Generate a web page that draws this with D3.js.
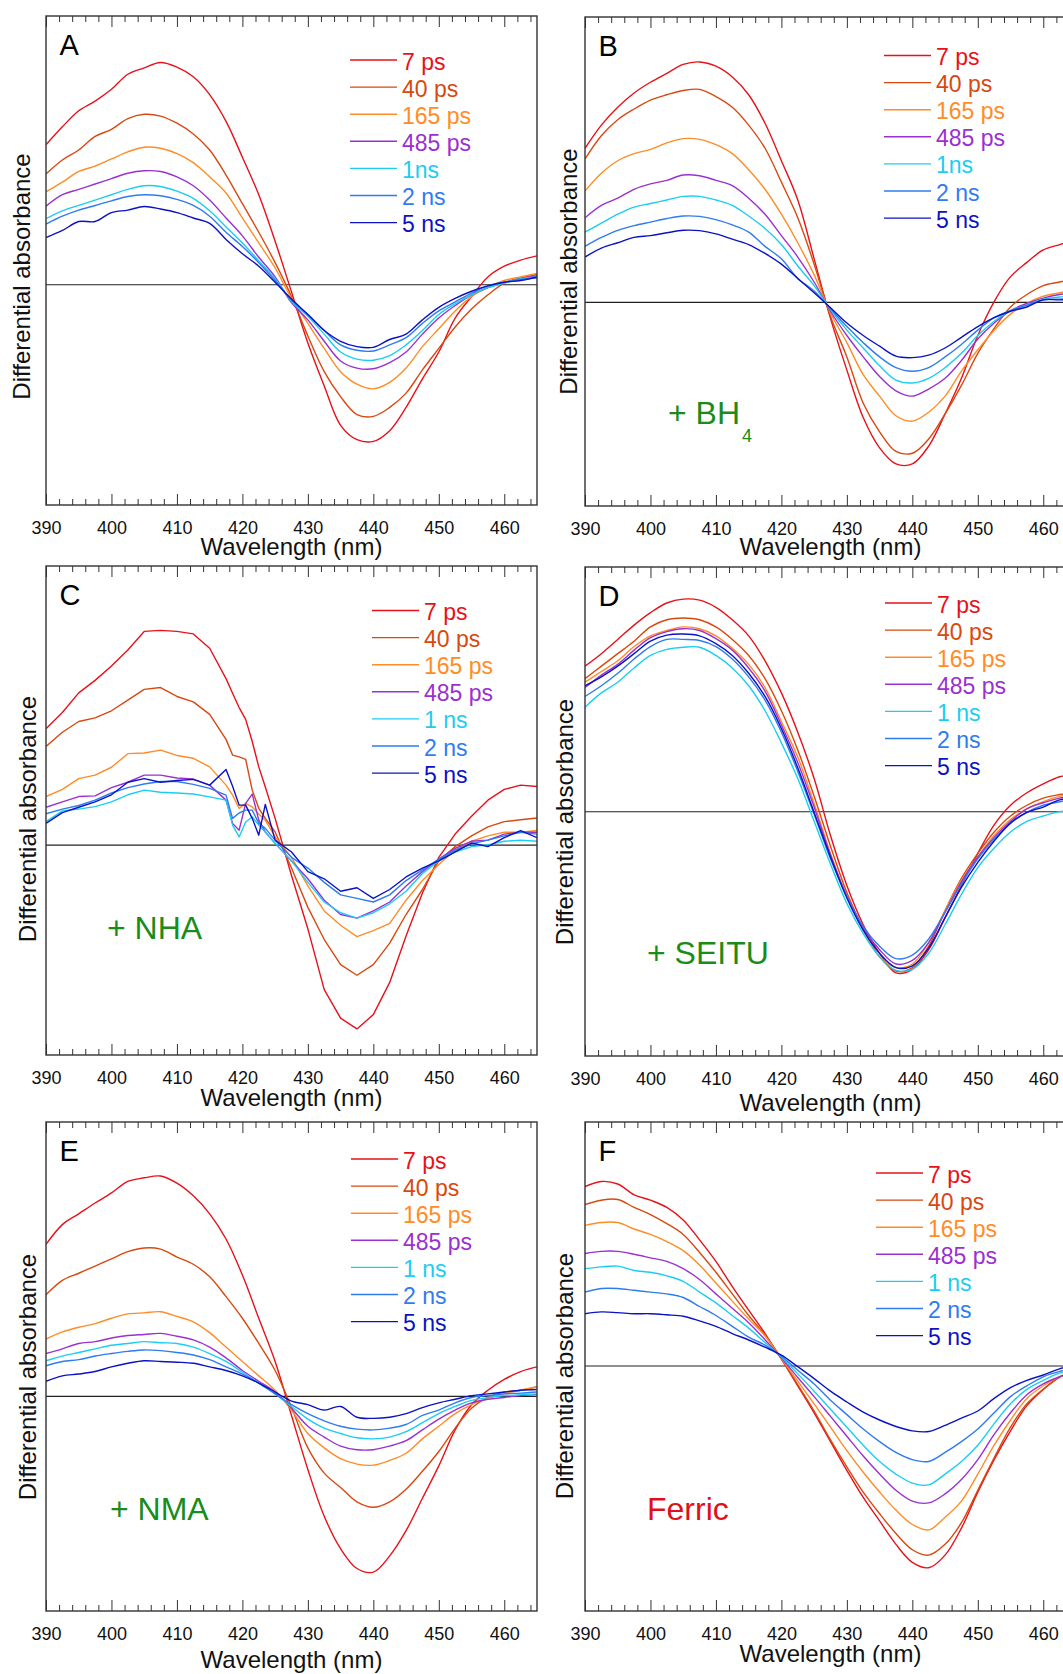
<!DOCTYPE html>
<html>
<head>
<meta charset="utf-8">
<script src="https://cdn.jsdelivr.net/npm/d3@7"></script>
<style>
  body { margin: 0; background: #fff; }
  svg text { font-family: "Liberation Sans", Arial, Helvetica, sans-serif; }
</style>
</head>
<body>
<svg id="fig" width="1063" height="1674"></svg>
<script>
// ---------- Data ----------
// Probe wavelengths (nm) shared by panels A, B, D, E, F
const wavelengths = [390, 392.5, 395, 397.5, 400, 402.5, 405, 407.5, 410, 412.5, 415, 417.5, 420, 422.5, 425,
  427.5, 430, 432.5, 435, 437.5, 440, 442.5, 445, 447.5, 450, 452.5, 455, 457.5, 460, 462.5, 465];
// Panel C is sampled more finely around the noisy 418-424 nm region
const wavelengthsC = [390, 392.5, 395, 397.5, 400, 402.5, 405, 407.5, 410, 412.5, 415, 417.5, 418.5, 419.5, 420.5,
  421.5, 422.5, 423.5, 425, 427.5, 430, 432.5, 435, 437.5, 440, 442.5, 445, 447.5, 450, 452.5, 455, 457.5, 460, 462.5, 465];

const delayLabels = ["7 ps", "40 ps", "165 ps", "485 ps", "1 ns", "2 ns", "5 ns"];
const delayLabelsAB = ["7 ps", "40 ps", "165 ps", "485 ps", "1ns", "2 ns", "5 ns"];
const majorTicks = [390, 400, 410, 420, 430, 440, 450, 460];
const panelLetters = ["A", "B", "C", "D", "E", "F"];

// Differential absorbance (arb. units), one row per delay: 7 ps, 40 ps, 165 ps, 485 ps, 1 ns, 2 ns, 5 ns
const spectraA = [
  [39.2, 44.2, 48.7, 51.4, 54.7, 58.9, 60.7, 62.2, 60.9, 58.2, 53.2, 45.7, 35.7, 25.2, 12.2, -2.0, -16.3, -28.3, -39.3, -43.3, -43.8, -40.8, -34.3, -26.3, -18.8, -9.3, -3.3, 2.2, 5.2, 6.9, 8.1],
  [31.0, 34.9, 37.7, 41.5, 43.5, 46.5, 47.7, 47.2, 45.2, 42.2, 37.7, 30.7, 22.7, 14.7, 6.2, -3.3, -14.3, -24.3, -31.3, -36.3, -36.8, -34.3, -30.3, -23.8, -17.8, -11.8, -6.8, -2.8, 0.5, 1.9, 2.9],
  [26.0, 28.7, 31.7, 33.2, 35.2, 37.2, 38.5, 38.2, 36.7, 34.2, 30.2, 25.7, 18.7, 11.7, 4.7, -3.8, -10.8, -17.8, -24.3, -27.8, -29.1, -27.3, -23.3, -17.3, -12.3, -7.3, -3.3, -0.8, 1.2, 2.2, 3.2],
  [22.0, 25.2, 26.7, 28.2, 29.7, 31.2, 31.9, 31.7, 30.2, 27.7, 23.7, 18.7, 13.7, 7.7, 2.2, -5.0, -9.8, -15.8, -21.3, -23.3, -23.5, -21.8, -18.8, -13.8, -9.3, -5.8, -2.8, -0.8, 0.7, 1.7, 2.5],
  [18.5, 20.7, 22.2, 23.7, 25.2, 26.7, 27.7, 27.5, 26.2, 24.2, 20.7, 16.2, 11.7, 6.7, 1.7, -4.6, -8.8, -13.8, -18.8, -20.8, -21.1, -19.8, -16.8, -12.8, -8.3, -5.3, -2.8, -0.8, 0.5, 1.7, 2.2],
  [17.0, 19.2, 20.9, 22.2, 23.5, 24.7, 25.2, 24.9, 23.9, 22.2, 19.2, 14.7, 10.7, 6.2, 1.2, -4.3, -8.3, -12.8, -16.8, -18.3, -18.5, -16.8, -14.8, -10.8, -7.3, -4.8, -2.3, -0.3, 0.7, 1.5, 1.9],
  [13.2, 15.2, 17.7, 17.7, 20.2, 20.9, 21.9, 21.2, 20.2, 18.7, 17.2, 12.7, 8.7, 5.2, 0.7, -4.0, -8.3, -12.8, -15.8, -17.3, -17.5, -15.3, -13.8, -9.8, -6.3, -3.8, -1.8, -0.3, 0.7, 1.2, 2.2]
];

const spectraB = [
  [43.2, 49.7, 54.7, 58.7, 61.7, 64.2, 66.7, 67.4, 66.2, 63.2, 58.2, 50.2, 39.7, 28.7, 12.2, -4.5, -19.0, -32.3, -40.8, -45.3, -45.3, -40.3, -31.3, -21.3, -9.3, 0.2, 7.2, 11.2, 14.7, 16.2, 17.7],
  [40.2, 46.7, 51.2, 54.2, 56.7, 58.2, 59.4, 59.7, 57.7, 54.7, 49.7, 43.2, 33.7, 23.7, 10.7, -4.0, -15.3, -28.3, -36.3, -41.8, -42.3, -38.3, -31.3, -23.3, -14.3, -7.3, -1.3, 2.2, 4.7, 5.7, 6.7],
  [31.2, 36.2, 39.7, 41.7, 42.9, 44.7, 45.9, 45.7, 44.2, 41.7, 37.2, 31.7, 24.7, 16.7, 7.7, -3.0, -11.3, -20.3, -26.3, -31.8, -33.3, -30.8, -26.3, -19.3, -13.3, -7.8, -3.3, -0.3, 1.7, 2.7, 3.7],
  [23.7, 27.2, 29.2, 31.7, 33.2, 34.2, 35.7, 35.5, 34.2, 32.7, 29.2, 24.7, 18.7, 12.7, 5.7, -2.5, -9.3, -15.3, -20.8, -24.8, -26.3, -24.3, -21.3, -16.3, -10.3, -5.8, -2.3, -0.3, 1.2, 2.2, 2.7],
  [19.7, 22.2, 24.7, 26.7, 27.7, 28.7, 29.7, 29.7, 28.7, 27.2, 24.2, 20.7, 16.2, 10.2, 4.7, -2.0, -7.8, -12.8, -17.8, -21.8, -22.6, -21.3, -18.3, -14.3, -9.3, -5.3, -2.3, -0.8, 0.9, 1.5, 1.9],
  [15.7, 18.2, 20.2, 21.5, 22.5, 23.5, 24.2, 24.1, 23.2, 21.7, 19.7, 15.7, 12.2, 6.7, 3.2, -1.8, -6.8, -11.3, -15.3, -18.3, -19.3, -18.3, -15.3, -11.8, -7.8, -4.3, -2.3, -0.8, 0.7, 0.9, 1.2],
  [12.7, 15.2, 16.7, 18.2, 18.7, 19.5, 20.2, 20.1, 19.2, 17.7, 16.2, 13.7, 10.7, 6.7, 2.7, -1.5, -5.8, -9.3, -12.3, -15.1, -15.5, -14.8, -12.8, -9.8, -6.8, -4.3, -2.5, -1.3, 0.7, 0.7, 0.9]
];

const spectraC = [
  [32.6, 37.1, 42.6, 46.1, 50.1, 54.6, 59.8, 60.1, 59.8, 59.1, 55.1, 46.6, 42.5, 38.5, 35.2, 29.0, 21.9, 16.3, 7.5, -8.5, -23.4, -40.4, -48.4, -51.4, -47.4, -38.4, -25.4, -13.4, -3.4, 3.1, 8.1, 12.6, 15.6, 16.8, 16.4],
  [27.6, 31.6, 34.6, 35.6, 37.6, 40.6, 43.6, 44.1, 41.6, 40.1, 36.6, 29.6, 25.2, 24.7, 24.0, 15.4, 10.3, 7.5, 3.7, -6.4, -17.4, -26.4, -33.4, -36.4, -33.4, -27.4, -19.4, -12.4, -4.4, -0.4, 2.6, 5.1, 6.6, 7.1, 7.6],
  [13.6, 15.6, 18.6, 19.6, 21.8, 25.6, 25.8, 26.6, 25.1, 24.3, 21.9, 16.8, 14.0, 10.3, 11.7, 10.7, 8.7, 7.0, 2.3, -3.4, -11.4, -18.4, -22.4, -25.6, -23.9, -21.9, -15.4, -9.9, -5.4, -1.4, 1.1, 2.6, 3.6, 3.6, 4.1],
  [10.6, 12.1, 13.6, 13.8, 16.1, 17.6, 19.6, 19.6, 18.8, 18.5, 16.8, 12.6, 6.1, 4.2, 11.7, 14.3, 7.0, 3.7, 0.5, -4.4, -9.4, -15.4, -19.4, -20.4, -18.4, -15.9, -11.4, -7.4, -3.9, -0.9, 1.1, 1.4, 3.1, 3.6, 3.6],
  [6.6, 9.6, 10.1, 10.8, 12.1, 14.1, 15.4, 14.8, 14.6, 14.3, 13.5, 12.6, 5.6, 2.3, 6.5, 7.9, 5.6, 3.7, 0.5, -4.4, -10.4, -15.9, -18.9, -20.4, -18.9, -16.4, -12.9, -7.9, -4.4, -1.9, -0.4, 0.1, 1.1, 1.4, 1.1],
  [8.8, 10.1, 11.1, 12.6, 14.6, 16.1, 17.1, 17.8, 17.8, 17.0, 15.9, 14.0, 7.5, 9.0, 9.8, 9.8, 6.1, 4.7, 1.4, -3.4, -6.4, -10.4, -13.9, -14.9, -15.9, -13.9, -9.9, -6.9, -3.9, -1.4, 0.4, 1.4, 2.6, 3.6, 3.1],
  [6.1, 9.1, 10.6, 12.1, 14.1, 17.6, 18.6, 17.6, 18.1, 18.4, 16.8, 21.2, 16.5, 11.2, 11.2, 7.5, 2.8, 11.4, 1.4, -1.9, -7.4, -9.4, -12.9, -11.9, -14.9, -12.4, -8.9, -6.4, -4.4, -1.9, 0.6, -0.4, 2.1, 4.1, 2.1]
];

const spectraD = [
  [40.8, 44.3, 48.3, 52.3, 55.8, 58.5, 59.6, 59.3, 57.3, 53.8, 49.3, 42.3, 33.3, 22.3, 9.3, -6.7, -20.7, -31.7, -39.7, -45.2, -44.2, -38.7, -29.7, -20.7, -11.7, -3.7, 1.8, 5.3, 7.8, 9.8, 10.5],
  [37.3, 40.8, 44.3, 47.8, 51.8, 53.8, 54.3, 53.8, 51.8, 48.3, 43.8, 37.3, 28.3, 17.3, 4.3, -9.7, -22.7, -32.7, -40.7, -44.7, -43.7, -37.7, -27.7, -18.7, -11.7, -5.7, -1.2, 1.8, 3.8, 4.8, 5.5],
  [36.3, 39.3, 42.3, 46.3, 49.3, 50.8, 51.8, 51.3, 49.3, 45.8, 41.3, 34.8, 25.3, 15.3, 2.3, -11.7, -23.7, -33.2, -40.7, -43.7, -42.7, -36.7, -27.7, -19.2, -12.7, -6.7, -2.2, 0.8, 2.8, 4.3, 4.8],
  [34.8, 38.3, 41.3, 45.3, 48.8, 50.5, 51.3, 50.8, 48.5, 45.3, 40.3, 33.8, 24.3, 13.8, 1.3, -12.2, -23.7, -32.7, -38.7, -42.7, -41.7, -36.7, -28.2, -19.7, -12.7, -7.2, -2.7, 0.8, 2.5, 3.8, 4.3],
  [29.3, 33.3, 36.3, 40.3, 43.8, 45.5, 46.1, 46.1, 43.8, 40.3, 35.3, 28.3, 19.3, 9.3, -2.7, -14.7, -25.7, -34.2, -40.7, -44.5, -44.2, -39.7, -31.7, -23.2, -15.7, -10.2, -5.7, -2.7, -1.2, 0.0, 0.3],
  [32.3, 35.3, 38.8, 42.8, 46.3, 48.3, 48.3, 48.0, 46.3, 42.8, 37.8, 31.3, 22.3, 11.3, -0.7, -13.2, -23.7, -32.2, -37.7, -41.2, -40.2, -35.7, -28.2, -20.2, -13.2, -7.7, -3.2, -0.2, 1.8, 2.8, 3.3],
  [35.3, 37.8, 40.8, 44.3, 47.8, 49.5, 49.8, 49.3, 47.1, 43.8, 38.8, 32.3, 23.3, 12.3, -0.2, -12.7, -24.2, -33.2, -39.7, -43.7, -43.2, -38.2, -29.7, -21.2, -14.2, -8.2, -3.2, -0.2, 1.3, 3.3, 3.8]
];

const spectraE = [
  [42.2, 47.7, 50.7, 53.7, 56.5, 59.7, 60.7, 61.2, 59.2, 55.7, 50.7, 43.7, 33.7, 21.7, 9.7, -5.3, -20.3, -33.3, -42.3, -47.8, -48.8, -44.3, -37.3, -28.3, -19.3, -9.3, -2.3, 1.7, 4.7, 6.9, 8.2],
  [28.2, 32.2, 34.2, 36.2, 38.2, 40.2, 41.2, 40.9, 38.7, 36.7, 33.2, 27.7, 21.7, 14.7, 7.2, -3.0, -14.3, -21.3, -25.3, -29.3, -30.8, -29.3, -25.8, -20.8, -15.3, -8.8, -3.3, -0.3, 1.2, 1.7, 2.7],
  [15.9, 17.9, 19.2, 20.2, 21.7, 22.9, 23.2, 23.5, 22.2, 20.7, 17.7, 13.7, 9.7, 5.7, 1.7, -3.8, -10.3, -14.3, -17.3, -18.8, -19.1, -17.8, -15.8, -11.8, -8.3, -4.8, -2.3, -0.5, 0.7, 1.7, 2.7],
  [11.9, 13.2, 14.7, 15.2, 16.2, 16.9, 17.2, 17.5, 16.7, 15.7, 13.7, 10.7, 7.2, 4.2, 1.2, -3.3, -8.3, -11.3, -13.8, -14.8, -14.8, -13.8, -12.3, -9.3, -6.3, -3.8, -1.8, -0.8, -0.3, 0.2, 0.5],
  [9.9, 11.2, 12.2, 13.2, 14.2, 14.7, 15.2, 14.9, 14.7, 13.7, 11.9, 9.7, 6.7, 3.7, 0.7, -2.8, -6.3, -8.8, -10.3, -11.5, -11.8, -11.3, -9.8, -7.3, -4.8, -2.8, -1.1, -0.3, 0.2, 0.5, 0.7],
  [8.5, 9.7, 10.2, 11.2, 11.9, 12.5, 12.9, 12.7, 12.2, 11.5, 10.2, 8.2, 6.2, 3.7, 0.7, -2.3, -4.8, -6.8, -8.3, -9.1, -9.3, -8.8, -7.8, -5.3, -3.8, -1.8, -0.3, 0.2, 0.7, 0.9, 1.2],
  [4.2, 5.7, 6.2, 6.9, 8.2, 9.2, 9.9, 9.7, 9.5, 9.2, 8.2, 7.2, 5.7, 3.7, 1.2, -1.3, -2.3, -3.8, -2.8, -5.8, -6.1, -5.8, -4.8, -3.1, -1.8, -0.8, 0.2, 0.7, 1.2, 1.7, 1.9]
];

const spectraF = [
  [49.8, 51.2, 50.5, 47.5, 46.0, 44.0, 40.5, 35.0, 29.0, 22.0, 15.5, 9.0, 1.9, -5.5, -13.0, -21.0, -29.0, -36.5, -43.0, -49.5, -54.5, -56.0, -52.5, -45.0, -35.0, -26.0, -18.0, -11.0, -6.5, -3.0, -1.0],
  [44.8, 46.0, 46.2, 44.0, 42.0, 39.5, 36.5, 31.5, 26.0, 20.0, 14.0, 8.6, 2.0, -5.2, -12.5, -20.5, -28.0, -35.0, -41.0, -46.5, -51.0, -52.5, -49.5, -43.5, -34.5, -25.5, -17.0, -10.5, -6.5, -3.2, -1.2],
  [39.0, 39.8, 39.8, 38.0, 36.5, 34.5, 32.0, 28.0, 23.0, 18.0, 13.0, 8.3, 2.0, -4.2, -10.5, -17.0, -23.5, -29.5, -35.0, -40.0, -44.0, -45.5, -42.0, -37.5, -30.0, -22.0, -15.0, -9.0, -5.5, -3.0, -1.5],
  [31.2, 31.8, 31.8, 31.0, 30.0, 29.0, 27.0, 24.0, 20.0, 16.0, 12.0, 7.3, 2.2, -3.2, -8.5, -14.0, -19.5, -25.0, -30.0, -34.5, -37.5, -38.0, -35.5, -31.5, -26.0, -19.0, -13.0, -8.0, -5.0, -3.0, -1.5],
  [27.0, 27.5, 27.7, 26.5, 26.0, 25.0, 23.5, 20.5, 17.5, 14.0, 10.5, 6.5, 2.5, -2.2, -7.0, -12.0, -17.0, -22.0, -26.5, -30.0, -32.5, -33.0, -30.0, -26.5, -22.0, -16.0, -10.5, -6.5, -4.0, -2.0, -1.0],
  [20.5, 21.5, 21.5, 21.0, 20.5, 20.0, 19.0, 16.5, 14.0, 11.0, 8.0, 5.8, 2.7, -1.2, -5.0, -9.5, -13.5, -17.5, -21.0, -24.0, -26.0, -26.5, -24.0, -21.0, -17.5, -13.0, -8.5, -5.5, -3.0, -1.5, -0.5],
  [14.5, 15.0, 14.8, 14.5, 14.5, 14.2, 13.8, 12.5, 11.0, 9.0, 7.2, 5.2, 3.0, -0.2, -3.5, -7.0, -10.0, -12.8, -15.0, -16.8, -18.0, -18.2, -16.5, -14.5, -12.5, -9.0, -6.0, -4.0, -2.5, -0.8, 0.5]
];

// ---------- Styling ----------
const delayColors = ["#e8111a", "#d9480f", "#ff8c26", "#9b30d0", "#1ccdf2", "#2f7bf0", "#0b12c4"];
const GREEN = "#1a8c1a";
const RED = "#e0101a";
const FONT = '"Liberation Sans", Arial, Helvetica, sans-serif';

const W = 491, H = 489;           // frame size of every panel
const xDomain = [390, 465];

// Per-panel layout
const panels = [
  { letter: panelLetters[0], wl: wavelengths, spectra: spectraA, labels: delayLabelsAB, left: 46, top: 16,
    yDomain: [-61.6, 75.2], legend: { x: 304, y: 44 }, ylab: { dx: -24, dy: 16 }, xlabDy: 50, note: null, linear: false },
  { letter: panelLetters[1], wl: wavelengths, spectra: spectraB, labels: delayLabelsAB, left: 585, top: 17,
    yDomain: [-57.1, 80.0], legend: { x: 299, y: 38.5 }, ylab: { dx: -16, dy: 10 }, xlabDy: 49,
    note: { text: "+ BH", sub: "4", x: 83, y: 407, color: GREEN }, linear: false },
  { letter: panelLetters[2], wl: wavelengthsC, spectra: spectraC, labels: delayLabels, left: 46, top: 566,
    yDomain: [-58.7, 78.1], legend: { x: 326, y: 44.5 }, ylab: { dx: -18.5, dy: 8.5 }, xlabDy: 51,
    note: { text: "+ NHA", x: 61, y: 372.5, color: GREEN }, linear: true },
  { letter: panelLetters[3], wl: wavelengths, spectra: spectraD, labels: delayLabels, left: 585, top: 567,
    yDomain: [-68.5, 68.6], legend: { x: 300, y: 36 }, ylab: { dx: -20, dy: 10.5 }, xlabDy: 55,
    note: { text: "+ SEITU", x: 62, y: 397, color: GREEN }, linear: false },
  { letter: panelLetters[4], wl: wavelengths, spectra: spectraE, labels: delayLabels, left: 46, top: 1122,
    yDomain: [-59.6, 76.2], legend: { x: 305, y: 37 }, ylab: { dx: -18.3, dy: 10.5 }, xlabDy: 57,
    note: { text: "+ NMA", x: 64, y: 398, color: GREEN }, linear: false },
  { letter: panelLetters[5], wl: wavelengths, spectra: spectraF, labels: delayLabels, left: 585, top: 1122,
    yDomain: [-68.0, 67.7], legend: { x: 291, y: 51 }, ylab: { dx: -20, dy: 9.5 }, xlabDy: 51,
    note: { text: "Ferric", x: 62, y: 397.5, color: RED }, linear: false }
];

// ---------- Drawing ----------
const svg = d3.select("#fig");
svg.append("rect").attr("width", 1063).attr("height", 1674).attr("fill", "#fff");

const minorTicks = d3.range(390, 466, 2).filter(v => v % 10 !== 0);

panels.forEach((p, pi) => {
  const g = svg.append("g").attr("transform", `translate(${p.left},${p.top})`);
  const x = d3.scaleLinear().domain(xDomain).range([0, W]);
  const y = d3.scaleLinear().domain(p.yDomain).range([H, 0]);

  const clipId = "clip-" + pi;
  g.append("clipPath").attr("id", clipId)
    .append("rect").attr("width", W).attr("height", H);

  // zero baseline
  g.append("line")
    .attr("x1", 0).attr("x2", W).attr("y1", y(0)).attr("y2", y(0))
    .attr("stroke", "#222").attr("stroke-width", 1.1);

  // spectra
  const line = d3.line()
    .x((d, i) => x(p.wl[i]))
    .y(d => y(d))
    .curve(p.linear ? d3.curveLinear : d3.curveCatmullRom.alpha(0.5));

  const series = g.append("g").attr("clip-path", `url(#${clipId})`);
  p.spectra.forEach((s, i) => {
    series.append("path")
      .attr("d", line(s))
      .attr("fill", "none")
      .attr("stroke", delayColors[i])
      .attr("stroke-width", 1.4)
      .attr("stroke-linejoin", "round");
  });

  // axes: inward ticks at top and bottom, labels below
  const styleAxis = sel => {
    sel.select(".domain").remove();
    sel.selectAll(".tick line").attr("stroke", "#333").attr("stroke-width", 1);
    sel.selectAll(".tick text").attr("font-family", FONT).attr("font-size", 18).attr("fill", "#111");
  };
  g.append("g").attr("transform", `translate(0,${H})`)
    .call(d3.axisBottom(x).tickValues(minorTicks).tickSize(-6).tickFormat(""))
    .call(styleAxis);
  g.append("g").attr("transform", `translate(0,${H})`)
    .call(d3.axisBottom(x).tickValues(majorTicks).tickSize(-11).tickPadding(16).tickFormat(d3.format("d")))
    .call(styleAxis);
  g.append("g")
    .call(d3.axisTop(x).tickValues(minorTicks).tickSize(-6).tickFormat(""))
    .call(styleAxis);
  g.append("g")
    .call(d3.axisTop(x).tickValues(majorTicks).tickSize(-11).tickFormat(""))
    .call(styleAxis);

  // frame
  g.append("rect")
    .attr("width", W).attr("height", H)
    .attr("fill", "none").attr("stroke", "#333").attr("stroke-width", 1.4);

  // axis titles
  g.append("text")
    .attr("x", W / 2).attr("y", H + p.xlabDy)
    .attr("text-anchor", "middle")
    .attr("font-size", 24).attr("fill", "#111")
    .text("Wavelength (nm)");
  g.append("text")
    .attr("transform", `translate(${p.ylab.dx},${H / 2 + p.ylab.dy}) rotate(-90)`)
    .attr("text-anchor", "middle").attr("dy", "0.35em")
    .attr("font-size", 24).attr("fill", "#111")
    .text("Differential absorbance");

  // panel letter
  g.append("text")
    .attr("x", 13.5).attr("y", 39)
    .attr("font-size", 29).attr("fill", "#000")
    .text(p.letter);

  // legend
  const lg = g.append("g").attr("transform", `translate(${p.legend.x},${p.legend.y})`);
  p.labels.forEach((lab, i) => {
    const row = lg.append("g").attr("transform", `translate(0,${i * 27.1})`);
    row.append("line").attr("x1", 0).attr("x2", 47).attr("y1", 0).attr("y2", 0)
      .attr("stroke", delayColors[i]).attr("stroke-width", 1.4);
    row.append("text").attr("x", 52).attr("y", 9.5)
      .attr("font-size", 23).attr("fill", delayColors[i])
      .text(lab);
  });

  // sample annotation
  if (p.note) {
    const t = g.append("text")
      .attr("x", p.note.x).attr("y", p.note.y)
      .attr("font-size", 32).attr("fill", p.note.color);
    t.append("tspan").text(p.note.text);
    if (p.note.sub) {
      t.append("tspan").attr("dx", 2).attr("dy", 18).attr("font-size", 18).text(p.note.sub);
    }
  }
});
</script>
</body>
</html>
